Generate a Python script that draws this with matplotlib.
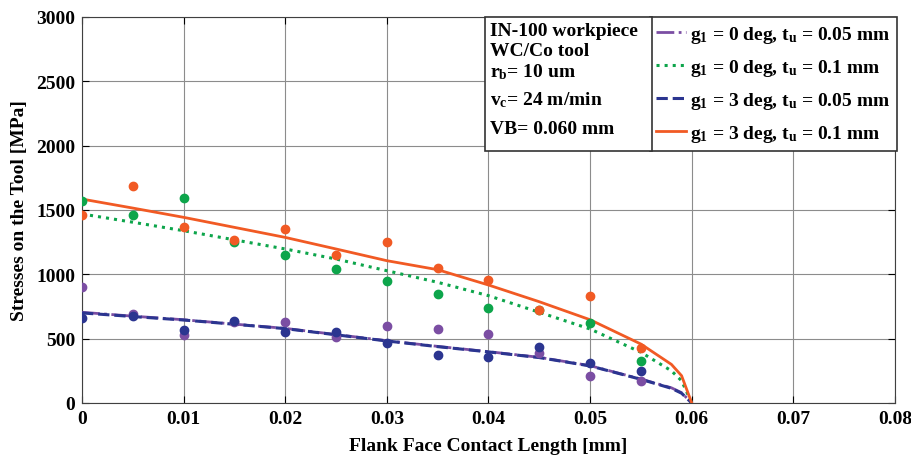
import matplotlib.pyplot as plt
from matplotlib.patches import Rectangle

plt.rcParams['font.family'] = ['Liberation Serif', 'DejaVu Serif']
plt.rcParams['font.weight'] = 'bold'
plt.rcParams['mathtext.fontset'] = 'custom'
plt.rcParams['mathtext.rm'] = 'Liberation Serif:bold'
plt.rcParams['mathtext.bf'] = 'Liberation Serif:bold'
plt.rcParams['mathtext.default'] = 'bf'

# measured points
x_pts = [0, 0.005, 0.01, 0.015, 0.02, 0.025, 0.03, 0.035, 0.04, 0.045, 0.05, 0.055]
g0_t005_pts = [900, 694, 531, 630, 627, 515, 601, 577, 534, 388, 210, 173]
g0_t01_pts = [1567, 1463, 1593, 1249, 1150, 1041, 946, 845, 736, 720, 619, 324]
g3_t005_pts = [660, 674, 570, 640, 549, 549, 464, 373, 360, 433, 308, 246]
g3_t01_pts = [1461, 1689, 1365, 1269, 1352, 1150, 1251, 1047, 958, 725, 831, 425]

# simulated curves
x_sim = [0, 0.005, 0.01, 0.015, 0.02, 0.025, 0.03, 0.035, 0.04, 0.045, 0.05, 0.055, 0.058, 0.059, 0.06]
g0_t005_sim = [705, 675, 647, 613, 580, 532, 484, 440, 399, 355, 290, 186, 118, 80, 0]
g0_t01_sim = [1469, 1405, 1339, 1268, 1197, 1119, 1028, 938, 834, 705, 575, 394, 250, 173, 0]
g3_t005_sim = [700, 672, 645, 612, 578, 530, 482, 438, 397, 353, 288, 184, 114, 76, 0]
g3_t01_sim = [1585, 1515, 1443, 1365, 1287, 1197, 1106, 1036, 917, 787, 647, 458, 300, 212, 0]

purple = '#7B4EA3'
green = '#0DA54B'
blue = '#2B3590'
orange = '#F15A24'

fs = 14

fig = plt.figure(figsize=(9.12, 4.56), dpi=100)
ax = fig.add_axes([82 / 912, 1 - 404 / 456, (895 - 82) / 912, (404 - 18) / 456])

ax.plot(x_sim, g0_t005_sim, color=purple, linestyle='-.', linewidth=2,
        label=r'g$_1$ = 0 deg, t$_u$ = 0.05 mm', zorder=3)
ax.plot(x_sim, g0_t01_sim, color=green, linestyle=':', linewidth=2.2,
        label=r'g$_1$ = 0 deg, t$_u$ = 0.1 mm', zorder=3)
ax.plot(x_sim, g3_t005_sim, color=blue, linestyle='--', linewidth=2.2,
        label=r'g$_1$ = 3 deg, t$_u$ = 0.05 mm', zorder=4)
ax.plot(x_sim, g3_t01_sim, color=orange, linestyle='-', linewidth=2,
        label=r'g$_1$ = 3 deg, t$_u$ = 0.1 mm', zorder=4)

ms = 6
ax.plot(x_pts, g0_t005_pts, 'o', color=purple, markersize=ms, zorder=5)
ax.plot(x_pts, g3_t005_pts, 'o', color=blue, markersize=ms, zorder=5)
ax.plot(x_pts, g0_t01_pts, 'o', color=green, markersize=ms, zorder=5)
ax.plot(x_pts, g3_t01_pts, 'o', color=orange, markersize=ms, zorder=5)

ax.set_xlim(0, 0.08)
ax.set_ylim(0, 3000)
ax.set_xticks([0, 0.01, 0.02, 0.03, 0.04, 0.05, 0.06, 0.07, 0.08])
ax.set_xticklabels(['0', '0.01', '0.02', '0.03', '0.04', '0.05', '0.06', '0.07', '0.08'])
ax.set_yticks(range(0, 3001, 500))
ax.tick_params(direction='in', top=True, right=True, labelsize=fs, length=5, pad=5)
ax.grid(True, color='#8c8c8c', linewidth=0.8)
for s in ax.spines.values():
    s.set_color('#404040')

ax.set_xlabel('Flank Face Contact Length [mm]', fontsize=fs, fontweight='bold', labelpad=7)
ax.set_ylabel('Stresses on the Tool [MPa]', fontsize=fs, fontweight='bold', labelpad=6)

leg = ax.legend(loc='upper right', bbox_to_anchor=(1.002, 1.0), borderaxespad=0,
                fancybox=False, framealpha=1, edgecolor='#333333', fontsize=fs,
                handlelength=1.5, handletextpad=0.2, labelspacing=0.62,
                borderpad=0.35)
leg.get_frame().set_linewidth(1.2)
leg.set_zorder(10)

# info box to the left of the legend
info_lines = ['IN-100 workpiece', 'WC/Co tool', r'r$_b$= 10 um', r'v$_c$= 24 m/min', 'VB= 0.060 mm']
info_y = [32, 52, 72, 100, 129]
box = Rectangle((485 / 912, 1 - 152 / 456), (652 - 485) / 912, (152 - 18) / 456,
                transform=fig.transFigure, facecolor='white', edgecolor='#333333',
                linewidth=1.2, zorder=9)
fig.add_artist(box)
for txt, yy in zip(info_lines, info_y):
    fig.text(490 / 912, 1 - yy / 456, txt, fontsize=fs, fontweight='bold',
             va='center', ha='left', zorder=11)

fig.savefig('out.png', dpi=100)
